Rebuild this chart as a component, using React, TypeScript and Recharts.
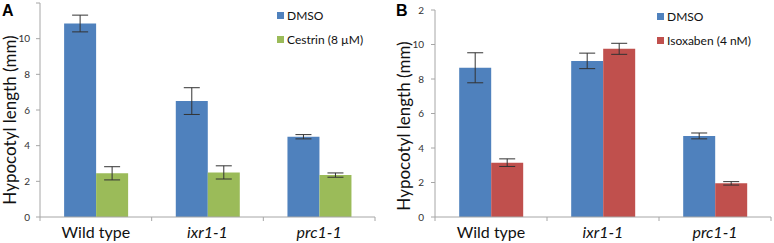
import React from "react";
import { Bar, BarChart, ErrorBar, XAxis, YAxis } from "recharts";

const categories = ["Wild type", "ixr1-1", "prc1-1"];
const italicCategory = [false, true, true];
const yTicks = [0, 2, 4, 6, 8, 10, 12];

// panel A
const dmsoA = [10.85, 6.5, 4.5];
const dmsoAErr = [0.47, 0.75, 0.12];
const cestrin = [2.45, 2.5, 2.35];
const cestrinErr = [0.37, 0.37, 0.12];

// panel B
const dmsoB = [8.65, 9.05, 4.7];
const dmsoBErr = [0.87, 0.45, 0.17];
const isoxaben = [3.15, 9.75, 1.95];
const isoxabenErr = [0.22, 0.32, 0.1];

const BLUE = "#4F81BD";
const GREEN = "#9BBB59";
const RED = "#C0504D";
const AXIS = "#A6A6A6";
const FONT = "Lato, 'Noto Sans', sans-serif";

const CategoryTick = (props: any) => {
    const { x, y, payload, index, width, visibleTicksCount } = props;
    const half =
        payload && payload.offset != null
            ? payload.offset
            : width / (2 * (visibleTicksCount || 3));
    const i = payload ? payload.index ?? index : index;
    return (
        <g>
            <line x1={x - half} x2={x - half} y1={y} y2={y + 4} stroke={AXIS} />
            {i === categories.length - 1 && (
                <line x1={x + half} x2={x + half} y1={y} y2={y + 4} stroke={AXIS} />
            )}
            <text
                x={x}
                y={y + 21}
                textAnchor="middle"
                fontSize={16}
                fontFamily={FONT}
                fill="#111"
                fontStyle={italicCategory[i] ? "italic" : "normal"}
            >
                {payload.value}
            </text>
        </g>
    );
};

type PanelProps = {
    letter: string;
    left: number;
    width: number;
    yAxisWidth: number;
    top: number;
    right: number;
    tickMargin: number;
    titleX: number;
    titleY: number;
    hideTop: boolean;
    names: string[];
    colors: string[];
    first: number[];
    firstErr: number[];
    second: number[];
    secondErr: number[];
    legendLeft: number;
    legendTop: number;
};

const Panel: React.FC<PanelProps> = (p) => {
    const data = categories.map((c, i) => ({
        name: c,
        a: p.first[i],
        aErr: p.firstErr[i],
        b: p.second[i],
        bErr: p.secondErr[i],
    }));

    return (
        <div style={{ position: "absolute", left: p.left, top: 0 }}>
            <BarChart
                width={p.width}
                height={243}
                data={data}
                margin={{ top: p.top, right: p.right, left: 0, bottom: 0 }}
                barCategoryGap="21.6%"
                barGap={0}
            >
                <XAxis
                    dataKey="name"
                    height={26}
                    interval={0}
                    tickLine={false}
                    tickSize={0}
                    tickMargin={0}
                    stroke={AXIS}
                    tick={<CategoryTick />}
                />
                <YAxis
                    width={p.yAxisWidth}
                    domain={[0, 12]}
                    ticks={yTicks}
                    interval={0}
                    tickSize={4}
                    tickMargin={p.tickMargin}
                    stroke={AXIS}
                    tick={{ fill: "#333", fontSize: 10, fontFamily: FONT }}
                    tickFormatter={(v: number) => (p.hideTop && v === 12 ? "" : String(v))}
                    label={{
                        content: () => (
                            <text
                                x={p.titleX}
                                y={p.titleY}
                                transform={`rotate(-90 ${p.titleX} ${p.titleY})`}
                                textAnchor="middle"
                                fontSize={17}
                                fontFamily={FONT}
                                fill="#111"
                            >
                                Hypocotyl length (mm)
                            </text>
                        ),
                    }}
                />
                <Bar dataKey="a" name={p.names[0]} fill={p.colors[0]} isAnimationActive={false}>
                    <ErrorBar dataKey="aErr" width={8} stroke="#333" strokeWidth={1} />
                </Bar>
                <Bar dataKey="b" name={p.names[1]} fill={p.colors[1]} isAnimationActive={false}>
                    <ErrorBar dataKey="bErr" width={8} stroke="#333" strokeWidth={1} />
                </Bar>
            </BarChart>
            <div
                style={{
                    position: "absolute",
                    left: p.legendLeft,
                    top: p.legendTop,
                    fontFamily: FONT,
                    fontSize: 12,
                    color: "#111",
                }}
            >
                {p.names.map((n, i) => (
                    <div
                        key={n}
                        style={{
                            display: "flex",
                            alignItems: "center",
                            height: 24,
                            whiteSpace: "nowrap",
                        }}
                    >
                        <span
                            style={{
                                display: "inline-block",
                                width: 7,
                                height: 7,
                                background: p.colors[i],
                                marginRight: 3,
                            }}
                        />
                        {n}
                    </div>
                ))}
            </div>
            <div
                style={{
                    position: "absolute",
                    left: p.letter === "A" ? 2 : 6,
                    top: 2,
                    paddingRight: p.letter === "A" ? 2 : 10,
                    background: "#fff",
                    fontFamily: "'Liberation Sans', Arial, sans-serif",
                    fontWeight: "bold",
                    fontSize: 16,
                    lineHeight: "17px",
                    color: "#000",
                }}
            >
                {p.letter}
            </div>
        </div>
    );
};

export default function App() {
    return (
        <div
            style={{
                position: "fixed",
                left: 0,
                top: 0,
                width: 774,
                height: 243,
                background: "#fff",
                overflow: "hidden",
            }}
        >
            <Panel
                letter="A"
                left={0}
                width={390}
                yAxisWidth={40}
                top={3}
                right={15}
                tickMargin={6}
                titleX={16}
                titleY={120}
                hideTop={true}
                names={["DMSO", "Cestrin (8 µM)"]}
                colors={[BLUE, GREEN]}
                first={dmsoA}
                firstErr={dmsoAErr}
                second={cestrin}
                secondErr={cestrinErr}
                legendLeft={277}
                legendTop={3}
            />
            <Panel
                letter="B"
                left={390}
                width={384}
                yAxisWidth={45}
                top={10}
                right={3}
                tickMargin={7}
                titleX={20}
                titleY={126}
                hideTop={false}
                names={["DMSO", "Isoxaben (4 nM)"]}
                colors={[BLUE, RED]}
                first={dmsoB}
                firstErr={dmsoBErr}
                second={isoxaben}
                secondErr={isoxabenErr}
                legendLeft={267}
                legendTop={4}
            />
        </div>
    );
}
